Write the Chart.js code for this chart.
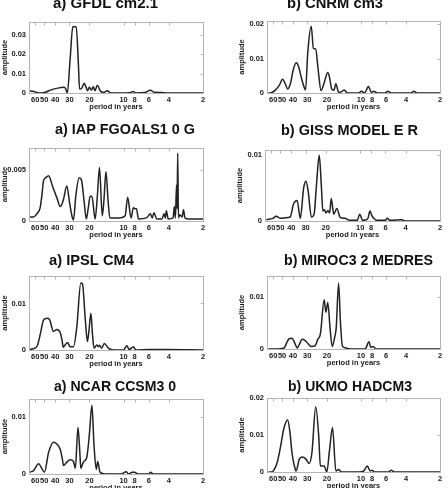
<!DOCTYPE html>
<html><head><meta charset="utf-8">
<script src="https://cdn.jsdelivr.net/npm/chart.js@4.4.1/dist/chart.umd.min.js"></script>
<style>
html,body{margin:0;padding:0;background:#fff;overflow:hidden;width:448px;height:488px;position:relative;}
canvas{position:absolute;}
</style></head><body>
<script>
// ---- data ----
const xTickPeriods = [60, 50, 40, 30, 20, 10, 8, 6, 4, 2];
const panelTitles = ['a) GFDL cm2.1', 'b) CNRM cm3', 'a) IAP FGOALS1 0 G', 'b) GISS MODEL E R',
                     'a) IPSL CM4', 'b) MIROC3 2 MEDRES', 'a) NCAR CCSM3 0', 'b) UKMO HADCM3'];

const gfdlPeriod = [67.6, 62, 54, 48, 44, 38, 34, 32.5, 31.3, 29.5, 28.0, 26.1, 25.0, 24.4, 23.3, 22.2, 21.4, 20.8, 20.0, 19.2, 18.5, 17.9, 17.0, 16.0, 15.0, 13.9, 13.0, 11, 8.6, 8.2, 7.8, 6.5, 5.8, 5.4, 4.6, 4.2, 3.5, 2];
const gfdlAmp = [0.0012, 0.0008, 0, 0.0005, 0.0015, 0.0025, 0.003, 0.0025, 0, 0.018, 0.034, 0.034, 0.015, 0.002, 0.0025, 0.005, 0.003, 0.0012, 0.003, 0.0015, 0.0032, 0.0012, 0.004, 0.001, 0.0003, 0.0012, 0, 0, 0.0003, 0.0008, 0, 0.0002, 0.0014, 0.0004, 0.0003, 0, 0, 0];
const gfdlYTicks = [0, 0.01, 0.02, 0.03];

const cnrmPeriod = [66, 63, 58, 53, 49.5, 47, 44.6, 42, 40, 37.4, 35.8, 33.5, 31.5, 31.0, 29.6, 27.6, 26.4, 25.2, 24.0, 22.6, 21.2, 19.7, 19.0, 18.2, 17.4, 16.7, 15.8, 14.8, 14.1, 13.2, 10.5, 9.9, 9.3, 8.6, 8.1, 7.7, 7.2, 6.1, 5.8, 5.4, 3.6, 3.4, 3.2, 2];
const cnrmAmp = [0, 0, 0.0007, 0.0022, 0.004, 0.0028, 0.0012, 0.003, 0.0065, 0.0088, 0.0078, 0.004, 0.0012, 0.0009, 0.012, 0.0195, 0.013, 0.0128, 0.007, 0.0007, 0.003, 0.006, 0.0045, 0.0012, 0.0008, 0.0027, 0.0002, 0.0004, 0.0009, 0, 0, 0.0005, 0, 0.0019, 0.0002, 0.0005, 0, 0, 0.0005, 0, 0, 0.0005, 0, 0];
const cnrmYTicks = [0, 0.01, 0.02];

const iapPeriod = [67.6, 62, 58, 54.2, 52, 50.7, 48.5, 45.7, 42, 38.5, 36.1, 34, 31.6, 29.8, 28.2, 27.6, 26.3, 24.6, 23.5, 22.3, 21.3, 20.5, 19.7, 19.0, 17.8, 17.0, 16.3, 15.4, 14.9, 14.3, 13.7, 13.2, 11, 9.7, 9.2, 8.6, 8.2, 7.95, 7.7, 7.4, 6.3, 5.8, 5.6, 5.4, 5.1, 4.6, 4.4, 4.3, 4.2, 4.05, 3.67, 3.57, 3.5, 3.42, 3.38, 3.34, 3.29, 3.2, 3.05, 2.97, 2.88, 2.7, 2];
const iapAmp = [0.0004, 0.0004, 0.0007, 0.0013, 0.0028, 0.0039, 0.0042, 0.0044, 0.0033, 0.0022, 0.0014, 0.002, 0.0034, 0.0017, 0.0003, 0.0001, 0.0025, 0.0042, 0.004, 0.002, 0.0002, 0.0012, 0.0024, 0.0024, 0.0002, 0.0025, 0.0052, 0.0005, 0.002, 0.0048, 0.002, 0.0003, 0.0003, 0.0005, 0.0023, 0.0003, 0.0013, 0.0012, 0.0012, 0.0002, 0.0003, 0.0007, 0.0003, 0.0008, 0.0002, 0.0002, 0.0007, 0.0003, 0.001, 0.0002, 0.0003, 0.0014, 0.0003, 0.0035, 0.0012, 0.0066, 0.0003, 0.0006, 0.0004, 0.0011, 0.0003, 0.0002, 0.0002];
const iapYTicks = [0, 0.005];

const gissPeriod = [66, 58, 54.2, 49.6, 45, 41, 38.2, 35.6, 33.4, 31.2, 29.8, 28.5, 26.7, 25.3, 24.2, 22.8, 21.8, 21.2, 20.5, 19.9, 19.1, 18.5, 17.9, 17.0, 16.0, 14.9, 13.6, 12.3, 10.6, 10.1, 9.5, 8.6, 8.2, 7.9, 7.6, 7.2, 6.0, 5.8, 5.5, 4.3, 4.1, 2];
const gissAmp = [0.0002, 0.0004, 0.0007, 0.0004, 0.0005, 0.0006, 0.0026, 0.0031, 0.0004, 0.005, 0.006, 0.0045, 0.0006, 0.001, 0.005, 0.0099, 0.005, 0.0015, 0.0017, 0.0012, 0.0016, 0.0012, 0.0034, 0.001, 0.0019, 0.0005, 0.0004, 0.0001, 0.0001, 0.001, 0.0001, 0.0003, 0.0015, 0.0008, 0.0004, 0.0001, 0.0001, 0.0004, 0.0001, 0.0002, 0, 0];
const gissYTicks = [0, 0.01];

const ipslPeriod = [67.6, 62, 57.5, 54, 50.7, 47.3, 45, 41.4, 38.7, 36.1, 34.8, 34.0, 32.5, 31.0, 29.6, 27.6, 25.8, 23.8, 23.0, 21.8, 20.8, 20.2, 19.4, 18.8, 18.2, 17.2, 16.6, 16.3, 15.6, 14.8, 13.6, 12.3, 10.0, 9.4, 8.9, 8.2, 7.8, 6.0, 4.2, 2];
const ipslAmp = [0.0001, 0.0003, 0.0009, 0.0035, 0.0064, 0.0068, 0.0066, 0.004, 0.0044, 0.0037, 0.0021, 0.0006, 0.0012, 0.0016, 0.0007, 0.0007, 0.005, 0.0144, 0.0142, 0.007, 0.0018, 0.004, 0.0079, 0.0035, 0.0004, 0.0011, 0.0007, 0.001, 0.0004, 0.0014, 0.0004, 0, 0, 0.0009, 0.0001, 0.0007, 0, 0.0001, 0.0001, 0];
const ipslYTicks = [0, 0.01];

const mirocPeriod = [66, 55, 48, 45.5, 43.7, 40.9, 38.5, 36.8, 35, 33.2, 31.6, 30.2, 27.6, 25.6, 24.1, 22.9, 21.2, 20.5, 19.7, 18.8, 18.0, 17.1, 16.6, 15.8, 15.2, 14.6, 13.6, 12.5, 9.2, 8.5, 8.2, 7.8, 7.4, 2];
const mirocAmp = [0, 0, 0.0002, 0.0012, 0.0019, 0.0021, 0.0011, 0.0002, 0.001, 0.0019, 0.0017, 0.0013, 0.0005, 0.0006, 0.0019, 0.0029, 0.0095, 0.0071, 0.009, 0.004, 0.0005, 0.0023, 0.004, 0.0127, 0.005, 0.0005, 0.0002, 0, 0, 0.0014, 0.0003, 0.0005, 0, 0];
const mirocYTicks = [0, 0.01];

const ncarPeriod = [67.6, 62, 56, 52.5, 49.8, 45.7, 41.4, 38.7, 36.1, 34.5, 33.8, 31.6, 29.6, 27.6, 26.6, 25.2, 24.3, 23.8, 22.6, 21.1, 20.0, 19.0, 18.2, 17.4, 16.9, 16.1, 14.5, 10.5, 9.5, 9.0, 8.4, 8.0, 7.5, 6.0, 5.8, 5.5, 2];
const ncarAmp = [0.0003, 0.0006, 0.0018, 0.001, 0.0003, 0.0038, 0.0056, 0.0053, 0.0043, 0.0025, 0.0015, 0.0021, 0.0025, 0.0022, 0.001, 0.0082, 0.004, 0.001, 0.0021, 0.0029, 0.007, 0.0121, 0.005, 0.0008, 0.0022, 0.0003, 0, 0, 0.0004, 0, 0.0003, 0.0003, 0, 0, 0.0003, 0, 0];
const ncarYTicks = [0, 0.01];

const ukmoPeriod = [66, 61.5, 58, 55.3, 51.5, 48.4, 44.6, 42.5, 40.9, 39, 37.6, 35.2, 33.2, 30.7, 28.8, 27.2, 25.2, 23.7, 22.9, 21.2, 20.1, 19.0, 17.9, 16.7, 15.7, 15.0, 10.5, 9.5, 8.8, 8.3, 8.0, 7.6, 5.7, 5.4, 5.1, 2];
const ukmoAmp = [0, 0, 0.001, 0.0025, 0.007, 0.0116, 0.0141, 0.0105, 0.0053, 0.0018, 0.0003, 0.0035, 0.0041, 0.0035, 0.0023, 0.0053, 0.0177, 0.0098, 0.0016, 0.0016, 0, 0.006, 0.0121, 0.0003, 0.0007, 0, 0, 0.0002, 0.0016, 0.0003, 0.0005, 0, 0, 0.0005, 0, 0];
const ukmoYTicks = [0, 0.01, 0.02];

const yMaxes = [0.0365, 0.021, 0.0071, 0.0107, 0.0159, 0.0141, 0.0132, 0.0201];

// ---- layout (pixel geometry of each panel) ----
const layoutBoxes = [
  {col:0, L:29, R:203, T:22,  B:93,  tx:53, ty:4,   tw:106, yt:0.5},
  {col:1, L:43, R:216, T:21,  B:93,  tx:63, ty:4,   tw:96,  yt:13.5},
  {col:0, L:29, R:203, T:148, B:221, tx:55, ty:130, tw:140, yt:0.5},
  {col:1, L:41, R:216, T:150, B:221, tx:57, ty:131, tw:137, yt:11.5},
  {col:0, L:29, R:203, T:276, B:350, tx:49, ty:261, tw:85,  yt:0.5},
  {col:1, L:43, R:216, T:276, B:349, tx:60, ty:261, tw:149, yt:13.5},
  {col:0, L:29, R:203, T:399, B:474, tx:54, ty:387, tw:122, yt:0.5},
  {col:1, L:43, R:216, T:398, B:472, tx:64, ty:387, tw:124, yt:13.5}
];

const series = [
  [gfdlPeriod, gfdlAmp, gfdlYTicks],
  [cnrmPeriod, cnrmAmp, cnrmYTicks],
  [iapPeriod, iapAmp, iapYTicks],
  [gissPeriod, gissAmp, gissYTicks],
  [ipslPeriod, ipslAmp, ipslYTicks],
  [mirocPeriod, mirocAmp, mirocYTicks],
  [ncarPeriod, ncarAmp, ncarYTicks],
  [ukmoPeriod, ukmoAmp, ukmoYTicks]
];

const FONT = '"Liberation Sans", Arial, sans-serif';
const smallFont = {family: FONT, size: 7.5, weight: 'bold'};
const TXT = '#1a1a1a';

const framePlugin = {
  id: 'frame',
  afterDraw(chart) {
    const a = chart.chartArea, ctx = chart.ctx;
    const l = Math.round(a.left) + 0.5, t = Math.round(a.top) + 0.5;
    const r = Math.round(a.right) + 0.5, b = Math.round(a.bottom) + 0.5;
    ctx.save();
    ctx.strokeStyle = '#b4b4b4';
    ctx.lineWidth = 1;
    ctx.strokeRect(l, t, r - l, b - t);
    // MATLAB-like inward tick marks on the top and right edges
    ctx.beginPath();
    chart.scales.x.ticks.forEach(tk => {
      const px = Math.round(chart.scales.x.getPixelForValue(tk.value)) + 0.5;
      ctx.moveTo(px, t); ctx.lineTo(px, t + 3);
    });
    chart.scales.y.ticks.forEach(tk => {
      const py = Math.round(chart.scales.y.getPixelForValue(tk.value)) + 0.5;
      ctx.moveTo(r, py); ctx.lineTo(r - 3, py);
    });
    ctx.stroke();
    ctx.restore();
  }
};

const panelTitlePlugin = {
  id: 'panelTitle',
  afterDraw(chart, args, opts) {
    const ctx = chart.ctx;
    ctx.save();
    ctx.font = 'bold 15px ' + FONT;
    ctx.fillStyle = '#111';
    ctx.textAlign = 'left';
    ctx.textBaseline = 'middle';
    ctx.fillText(opts.text, opts.x, opts.y, opts.maxWidth);
    ctx.restore();
  }
};

layoutBoxes.forEach((g, i) => {
  const [per, amp, yt] = series[i];
  const padTop = 30, xH = 24;
  const top = g.T - padTop;
  const h = (g.B - g.T) + padTop + xH;
  const cv = document.createElement('canvas');
  cv.width = 224; cv.height = h;
  cv.style.left = (g.col * 224) + 'px';
  cv.style.top = top + 'px';
  cv.style.width = '224px'; cv.style.height = h + 'px';
  document.body.appendChild(cv);

  new Chart(cv, {
    type: 'line',
    data: {
      datasets: [{
        data: per.map((p, k) => ({x: p, y: amp[k]})),
        borderColor: '#222222',
        borderWidth: 1.5,
        pointRadius: 0,
        fill: false,
        cubicInterpolationMode: 'monotone'
      }]
    },
    options: {
      responsive: false,
      animation: false,
      devicePixelRatio: 1,
      layout: {padding: {top: padTop, right: 224 - g.R, left: 0, bottom: 0}},
      plugins: {
        legend: {display: false},
        tooltip: {enabled: false},
        title: {display: false},
        panelTitle: {text: panelTitles[i], x: g.tx, y: g.ty - top, maxWidth: g.tw}
      },
      scales: {
        x: {
          type: 'logarithmic',
          reverse: true,
          min: 2, max: 68,
          afterBuildTicks: s => { s.ticks = xTickPeriods.map(v => ({value: v})); },
          afterFit: s => { s.height = xH; },
          grid: {display: false, drawTicks: false},
          border: {display: false},
          ticks: {autoSkip: false, maxRotation: 0, minRotation: 0, padding: 2,
                  font: smallFont, color: TXT, callback: v => String(v)},
          title: {display: true, text: 'period in years', font: smallFont, color: TXT,
                  padding: {top: 0, bottom: 5.5}}
        },
        y: {
          min: 0, max: yMaxes[i],
          afterBuildTicks: s => { s.ticks = yt.map(v => ({value: v})); },
          afterFit: s => { s.width = g.L; },
          grid: {display: false, drawTicks: false},
          border: {display: false},
          ticks: {padding: 3, font: smallFont, color: TXT,
                  callback: v => (v === 0 ? '0' : String(v))},
          title: {display: true, text: 'amplitude', font: smallFont, color: TXT,
                  padding: {top: g.yt, bottom: 0}}
        }
      }
    },
    plugins: [framePlugin, panelTitlePlugin]
  });
});
</script>
</body></html>
